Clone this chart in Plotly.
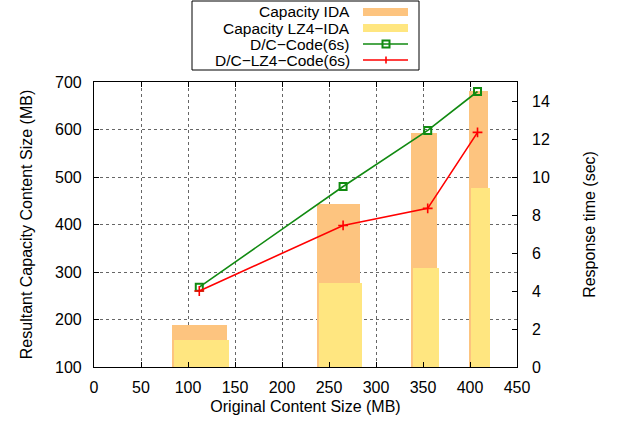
import plotly.graph_objects as go

# ---- data ----
bar_x = [112, 260, 351, 409]
capacity_ida = [188, 443, 593, 681]
capacity_lz4_ida = [156, 276, 308, 476]
bar_widths = [58.5, 45.4, 27, 19.9]

line_x = [112, 265, 355, 408]
dc_code = [4.2, 9.5, 12.45, 14.5]
dc_lz4_code = [4.0, 7.45, 8.35, 12.35]

x_ticks = list(range(0, 451, 50))
y_ticks = list(range(100, 701, 100))
y2_ticks = list(range(0, 15, 2))

ORANGE = "#FDC47F"
YELLOW = "#FFE680"
GREEN = "#118A11"
RED = "#FF0000"
FONT = "Liberation Sans, Arial, sans-serif"

W, H = 617, 424
L, R, T, B = 94, 517, 82, 367


def px(x):
    return (x - L) / (R - L)


def py(y):
    return (B - y) / (B - T)


fig = go.Figure()

fig.add_trace(go.Bar(
    x=bar_x, y=capacity_ida, width=bar_widths,
    offset=[-w / 2 for w in bar_widths],
    marker=dict(color=ORANGE, line=dict(width=0)),
    name="Capacity IDA", showlegend=False))
fig.add_trace(go.Bar(
    x=bar_x, y=capacity_lz4_ida, width=bar_widths,
    offset=[-w / 2 + 2 for w in bar_widths],
    marker=dict(color=YELLOW, line=dict(width=0)),
    name="Capacity LZ4-IDA", showlegend=False))
fig.add_trace(go.Scatter(
    x=line_x, y=dc_code, yaxis="y2", mode="lines+markers",
    line=dict(color=GREEN, width=1.6),
    marker=dict(symbol="square-open", size=7, color=GREEN, line=dict(width=2)),
    name="D/C-Code(6s)", showlegend=False))
fig.add_trace(go.Scatter(
    x=line_x, y=dc_lz4_code, yaxis="y2", mode="lines+markers",
    line=dict(color=RED, width=1.6),
    marker=dict(symbol="cross-thin-open", size=7, color=RED, line=dict(width=1.6, color=RED)),
    name="D/C-LZ4-Code(6s)", showlegend=False))

# ---- manual gnuplot-style legend ----
shapes = []
annotations = []
shapes.append(dict(type="rect", xref="paper", yref="paper",
                   x0=px(192), x1=px(419), y0=py(1), y1=py(70),
                   line=dict(color="black", width=1), fillcolor="white", layer="above"))
rows = [12, 28, 44, 60]
labels = ["Capacity IDA", "Capacity LZ4\u2212IDA", "D/C\u2212Code(6s)", "D/C\u2212LZ4\u2212Code(6s)"]
for r, lab in zip(rows, labels):
    annotations.append(dict(text=lab, xref="paper", yref="paper", x=px(352), y=py(r),
                            xanchor="right", yanchor="middle", showarrow=False,
                            font=dict(family=FONT, size=15.5, color="black")))
shapes.append(dict(type="rect", xref="paper", yref="paper", x0=px(363), x1=px(408),
                   y0=py(rows[0] - 4), y1=py(rows[0] + 4), line=dict(width=0),
                   fillcolor=ORANGE, layer="above"))
shapes.append(dict(type="rect", xref="paper", yref="paper", x0=px(363), x1=px(408),
                   y0=py(rows[1] - 4), y1=py(rows[1] + 4), line=dict(width=0),
                   fillcolor=YELLOW, layer="above"))
shapes.append(dict(type="line", xref="paper", yref="paper", x0=px(363), x1=px(408),
                   y0=py(rows[2]), y1=py(rows[2]), line=dict(color=GREEN, width=1.6), layer="above"))
shapes.append(dict(type="rect", xref="paper", yref="paper", x0=px(382.5), x1=px(389.5),
                   y0=py(rows[2] - 3.5), y1=py(rows[2] + 3.5),
                   line=dict(color=GREEN, width=2), fillcolor="rgba(0,0,0,0)", layer="above"))
shapes.append(dict(type="line", xref="paper", yref="paper", x0=px(363), x1=px(408),
                   y0=py(rows[3]), y1=py(rows[3]), line=dict(color=RED, width=1.6), layer="above"))
shapes.append(dict(type="line", xref="paper", yref="paper", x0=px(386), x1=px(386),
                   y0=py(rows[3] - 3.5), y1=py(rows[3] + 3.5), line=dict(color=RED, width=1.6), layer="above"))

axis_font = dict(family=FONT, size=16, color="black")

fig.update_layout(
    width=W, height=H,
    margin=dict(l=L, r=W - R, t=T, b=H - B, pad=0, autoexpand=False),
    paper_bgcolor="white", plot_bgcolor="white",
    barmode="overlay", bargap=0,
    font=axis_font,
    shapes=shapes, annotations=annotations,
    xaxis=dict(range=[0, 450], tickvals=x_ticks, ticks="inside", ticklen=5,
               tickcolor="black", showline=True, linecolor="black", linewidth=1.2,
               mirror="ticks", showgrid=True, gridcolor="#666", griddash="dot", gridwidth=1,
               zeroline=False, tickfont=axis_font, ticklabelstandoff=6, automargin=False,
               title=dict(text="Original Content Size (MB)", font=axis_font, standoff=5)),
    yaxis=dict(range=[100, 700], tickvals=y_ticks, ticks="inside", ticklen=5,
               tickcolor="black", showline=True, linecolor="black", linewidth=1.2,
               mirror=True, showgrid=True, gridcolor="#666", griddash="dot", gridwidth=1,
               zeroline=False, tickfont=axis_font, ticklabelstandoff=8, automargin=False,
               title=dict(text="Resultant Capacity Content Size (MB)", font=axis_font, standoff=18)),
    yaxis2=dict(range=[0, 15], tickvals=y2_ticks, ticks="inside", ticklen=5,
                tickcolor="black", overlaying="y", side="right", showgrid=False,
                zeroline=False, showline=False, tickfont=axis_font, ticklabelstandoff=14,
                automargin=False,
                title=dict(text="Response time (sec)", font=axis_font, standoff=34)),
)

fig.write_html("out.html")
